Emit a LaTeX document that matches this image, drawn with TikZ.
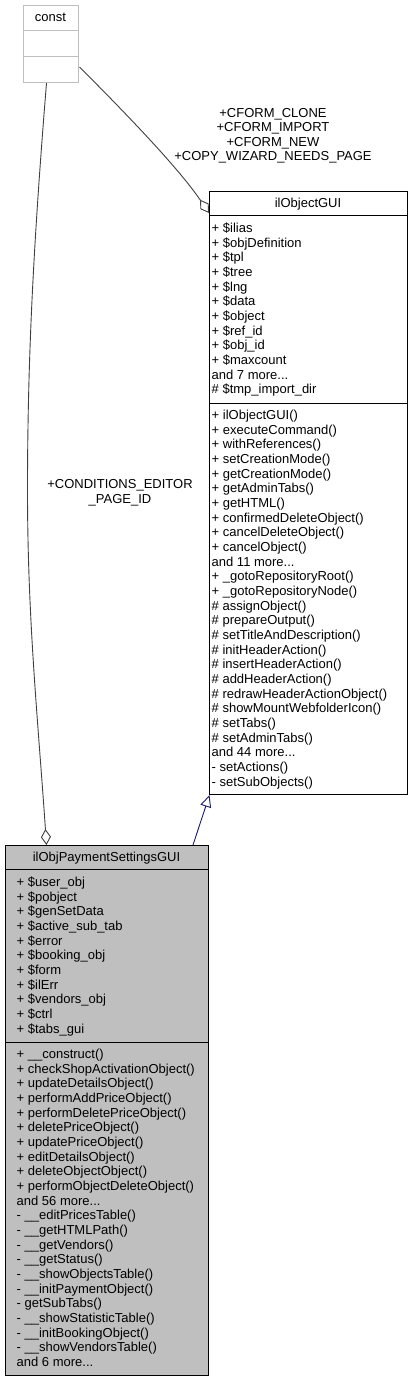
\documentclass[tikz,border=0pt]{standalone}
\usepackage{fontspec}
\setmainfont{Liberation Sans}
\usetikzlibrary{arrows.meta,calc}
\definecolor{grayb}{HTML}{BFBFBF}
\definecolor{edgeblue}{HTML}{191970}
\definecolor{edgegray}{HTML}{404040}
\newcommand\threedots{...}
\begin{document}
\begin{tikzpicture}[x=1pt,y=-1pt,
  txt/.style={anchor=base west,inner sep=0pt,font=\fontsize{13}{15}\selectfont},
  ttl/.style={anchor=base,inner sep=0pt,font=\fontsize{13}{15}\selectfont},
  classbox/.style={draw=black,line width=1pt,inner sep=0pt,anchor=north west},
  usage/.style={edgegray,line width=0.9pt,-{Diamond[open,fill=white,length=16pt,width=10pt]}},
  inherit/.style={edgeblue,line width=0.9pt,-{Triangle[open,fill=white,length=12pt,width=11pt]}}]
\useasboundingbox (0,0) rectangle (412,1381);

% const box
\node[classbox,draw=grayb,fill=white,minimum width=55pt,minimum height=76.5pt] (const) at (23,5.5) {};
\draw[grayb,line width=1pt] (23,31) -- (78,31);
\draw[grayb,line width=1pt] (23,56.7) -- (78,56.7);
\node[ttl] (constt) at (50.5,22) {const};

% ilObjectGUI box
\node[classbox,fill=white,minimum width=197.5pt,minimum height=603.5pt] (obj) at (209,190.5) {};
\draw[line width=1pt] (209,215.5) -- (406.5,215.5);
\draw[line width=1pt] (209,403) -- (406.5,403);
\node[ttl] (objt) at (308,207.5) {ilObjectGUI};
\foreach \t [count=\i from 0] in {+ \$ilias,+ \$objDefinition,+ \$tpl,+ \$tree,+ \$lng,+ \$data,+ \$object,+ \$ref\_id,+ \$obj\_id,+ \$maxcount,and 7 more\threedots,\# \$tmp\_import\_dir}
  \node[txt] (oa\i) at (211.5,{228+4.5+\i*14.67}) {\t};
\foreach \t [count=\i from 0] in {+ ilObjectGUI(),+ executeCommand(),+ withReferences(),+ setCreationMode(),+ getCreationMode(),+ getAdminTabs(),+ getHTML(),+ confirmedDeleteObject(),+ cancelDeleteObject(),+ cancelObject(),and 11 more\threedots,+ \_gotoRepositoryRoot(),+ \_gotoRepositoryNode(),\# assignObject(),\# prepareOutput(),\# setTitleAndDescription(),\# initHeaderAction(),\# insertHeaderAction(),\# addHeaderAction(),\# redrawHeaderActionObject(),\# showMountWebfolderIcon(),\# setTabs(),\# setAdminTabs(),and 44 more\threedots,- setActions(),- setSubObjects()}
  \node[txt] (om\i) at (211.5,{415+4.5+\i*14.67}) {\t};

% ilObjPaymentSettingsGUI box
\node[classbox,fill=grayb,minimum width=203pt,minimum height=530pt] (sub) at (5,845) {};
\draw[line width=1pt] (5,869) -- (208,869);
\draw[line width=1pt] (5,1042) -- (208,1042);
\node[ttl] (subt) at (106.5,861.5) {ilObjPaymentSettingsGUI};
\foreach \t [count=\i from 0] in {+ \$user\_obj,+ \$pobject,+ \$genSetData,+ \$active\_sub\_tab,+ \$error,+ \$booking\_obj,+ \$form,+ \$ilErr,+ \$vendors\_obj,+ \$ctrl,+ \$tabs\_gui}
  \node[txt] (sa\i) at (16.5,{882+4.5+\i*14.67}) {\t};
\foreach \t [count=\i from 0] in {+ \_\_construct(),+ checkShopActivationObject(),+ updateDetailsObject(),+ performAddPriceObject(),+ performDeletePriceObject(),+ deletePriceObject(),+ updatePriceObject(),+ editDetailsObject(),+ deleteObjectObject(),+ performObjectDeleteObject(),and 56 more\threedots,- \_\_editPricesTable(),- \_\_getHTMLPath(),- \_\_getVendors(),- \_\_getStatus(),- \_\_showObjectsTable(),- \_\_initPaymentObject(),- getSubTabs(),- \_\_showStatisticTable(),- \_\_initBookingObject(),- \_\_showVendorsTable(),and 6 more\threedots}
  \node[txt] (sm\i) at (16.5,{1054+4.5+\i*14.67}) {\t};

% connectors
\draw[inherit] ($(sub.north west)+(188,0)$) -- ($(obj.south west)+(0.5,0)$);
\draw[usage] ($(const.south west)+(23.5,0)$) .. controls (34.5,232) and (27.5,350) .. (27.5,490)
  .. controls (27.5,620) and (38,720) .. ($(sub.north west)+(41.5,0)$);
\draw[usage] ($(const.south east)+(0.5,-16)$) .. controls (138.5,126) and (182,173) .. ($(obj.north west)+(0,22.5)$);

% labels
\node[ttl] (l1) at (273,117) {+CFORM\_CLONE};
\node[ttl] (l2) at (273,131.5) {+CFORM\_IMPORT};
\node[ttl] (l3) at (273,146) {+CFORM\_NEW};
\node[ttl] (l4) at (273,160.5) {+COPY\_WIZARD\_NEEDS\_PAGE};
\node[ttl] (l5) at (120,488.5) {+CONDITIONS\_EDITOR};
\node[ttl] (l6) at (120,503.5) {\_PAGE\_ID};
\end{tikzpicture}
\end{document}
